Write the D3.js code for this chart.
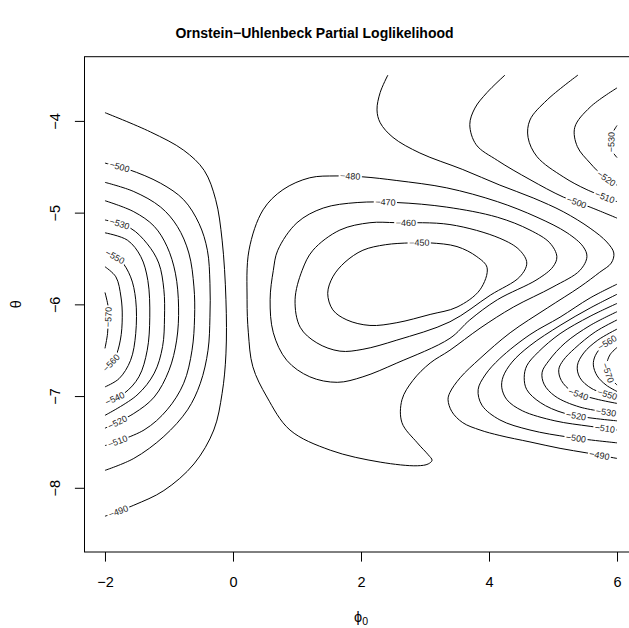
<!DOCTYPE html>
<html>
<head>
<meta charset="utf-8">
<script src="https://cdn.jsdelivr.net/npm/d3@7.9.0/dist/d3.min.js"></script>
<style>
  body { margin: 0; background: #fff; }
  svg { display: block; font-family: "Liberation Sans", Arial, sans-serif; }
</style>
</head>
<body>
<svg id="chart" width="629" height="628"></svg>
<script>
// axis ranges and ticks
const phiRange = [-2, 6];
const thetaRange = [-8.5, -3.5];
const phiTicks = [-2, 0, 2, 4, 6];
const thetaTicks = [-8, -7, -6, -5, -4];

// contour lines, [phi0, theta] pairs
// left basin
const left490 = [[-2,-3.91],[-1.29,-4.12],[-0.77,-4.32],[-0.45,-4.54],[-0.27,-4.86],[-0.17,-5.30],[-0.11,-5.95],[-0.11,-6.54],[-0.17,-6.97],[-0.30,-7.37],[-0.61,-7.74],[-1.08,-8.03],[-1.55,-8.19],[-2,-8.31]];
const left500 = [[-2,-4.46],[-1.63,-4.53],[-1.13,-4.68],[-0.77,-4.86],[-0.53,-5.12],[-0.40,-5.41],[-0.36,-5.77],[-0.36,-6.14],[-0.39,-6.50],[-0.51,-6.86],[-0.71,-7.15],[-1.08,-7.44],[-1.55,-7.68],[-2,-7.81]];
const left510 = [[-2,-4.67],[-1.55,-4.77],[-1.13,-4.94],[-0.87,-5.15],[-0.69,-5.44],[-0.61,-5.81],[-0.60,-6.14],[-0.64,-6.50],[-0.77,-6.86],[-1.03,-7.15],[-1.39,-7.37],[-2,-7.54]];
const left520 = [[-2,-4.87],[-1.55,-4.99],[-1.23,-5.15],[-1.03,-5.37],[-0.90,-5.66],[-0.85,-6.03],[-0.88,-6.39],[-1.00,-6.72],[-1.23,-7.01],[-1.55,-7.19],[-2,-7.35]];
const left530 = [[-2,-5.08],[-1.60,-5.17],[-1.34,-5.34],[-1.16,-5.55],[-1.08,-5.84],[-1.07,-6.14],[-1.10,-6.46],[-1.23,-6.75],[-1.50,-6.99],[-2,-7.21]];
const left540 = [[-2,-5.22],[-1.65,-5.30],[-1.44,-5.48],[-1.33,-5.74],[-1.30,-6.14],[-1.34,-6.50],[-1.47,-6.79],[-1.70,-6.97],[-2,-7.07]];
const left550 = [[-2,-5.43],[-1.76,-5.52],[-1.60,-5.70],[-1.52,-5.95],[-1.52,-6.32],[-1.60,-6.61],[-1.78,-6.81],[-2,-6.90]];
const left560 = [[-2,-5.59],[-1.83,-5.70],[-1.75,-5.92],[-1.73,-6.14],[-1.76,-6.39],[-1.85,-6.59],[-2,-6.70]];
const left570 = [[-2,-5.87],[-1.95,-6.03],[-1.95,-6.17],[-1.96,-6.32],[-2,-6.48]];

// central hill (closed loops)
const loop480 = [[1.61,-4.60],[2.03,-4.61],[2.56,-4.65],[3.34,-4.73],[4.13,-4.88],[4.75,-5.05],[5.22,-5.22],[5.47,-5.37],[5.53,-5.48],[5.42,-5.63],[5.00,-5.81],[4.38,-6.03],[3.86,-6.26],[3.39,-6.50],[3.08,-6.64],[2.81,-6.83],[2.64,-7.04],[2.64,-7.29],[2.88,-7.51],[3.05,-7.64],[3.11,-7.70],[3.05,-7.74],[2.88,-7.76],[2.30,-7.72],[1.52,-7.59],[0.89,-7.37],[0.53,-7.01],[0.31,-6.68],[0.24,-6.31],[0.22,-5.95],[0.25,-5.41],[0.47,-4.97],[0.78,-4.75],[1.20,-4.62]];
const loop470 = [[0.70,-5.41],[1.00,-5.11],[1.41,-4.95],[1.94,-4.89],[2.56,-4.89],[3.34,-4.94],[4.13,-5.05],[4.64,-5.19],[4.95,-5.33],[5.06,-5.48],[5.00,-5.59],[4.75,-5.73],[4.13,-5.95],[3.70,-6.17],[3.39,-6.37],[2.56,-6.64],[2.03,-6.79],[1.63,-6.85],[1.20,-6.79],[0.84,-6.61],[0.63,-6.31],[0.58,-5.95],[0.63,-5.63]];
const loop460 = [[1.25,-5.41],[1.67,-5.19],[2.14,-5.11],[2.56,-5.11],[3.39,-5.13],[4.17,-5.28],[4.48,-5.41],[4.59,-5.55],[4.48,-5.70],[4.02,-5.90],[3.39,-6.19],[2.56,-6.39],[2.03,-6.49],[1.67,-6.51],[1.31,-6.42],[1.05,-6.25],[0.97,-5.95],[1.08,-5.63]];
const loop450 = [[2.03,-5.41],[2.38,-5.35],[2.77,-5.33],[3.08,-5.33],[3.50,-5.37],[3.81,-5.48],[3.97,-5.60],[3.86,-5.84],[3.50,-6.03],[3.08,-6.11],[2.56,-6.20],[2.14,-6.23],[1.78,-6.17],[1.56,-6.06],[1.48,-5.88],[1.56,-5.70],[1.75,-5.54]];

// right side
const right490 = [[2.42,-3.50],[2.30,-3.69],[2.25,-3.88],[2.30,-4.02],[2.50,-4.18],[2.92,-4.35],[3.59,-4.53],[4.17,-4.70],[4.69,-4.84],[5.16,-4.99],[5.58,-5.17],[5.84,-5.32],[5.95,-5.44],[5.91,-5.55],[5.73,-5.65],[5.42,-5.81],[4.91,-6.04],[4.33,-6.31],[3.86,-6.59],[3.55,-6.80],[3.39,-6.96],[3.36,-7.04],[3.42,-7.17],[3.59,-7.29],[3.86,-7.37],[4.17,-7.43],[4.64,-7.50],[5.11,-7.57],[5.53,-7.62],[6.00,-7.68]];
const upper500 = [[4.25,-3.50],[3.97,-3.69],[3.78,-3.86],[3.70,-4.04],[3.80,-4.26],[4.13,-4.43],[4.64,-4.64],[5.16,-4.83],[5.58,-4.94],[6.00,-5.06]];
const upper510 = [[5.39,-3.50],[4.91,-3.77],[4.64,-3.99],[4.61,-4.18],[4.75,-4.39],[5.16,-4.61],[5.53,-4.75],[6.00,-4.88]];
const upper520 = [[6.00,-3.64],[5.58,-3.85],[5.34,-4.07],[5.38,-4.28],[5.58,-4.46],[5.78,-4.60],[6.00,-4.70]];
const upper530 = [[6.00,-4.05],[5.92,-4.15],[5.91,-4.23],[5.92,-4.32],[6.00,-4.40]];
const lower500 = [[6.00,-5.78],[5.58,-5.93],[5.11,-6.14],[4.64,-6.33],[4.17,-6.59],[3.94,-6.77],[3.83,-6.93],[3.89,-7.10],[4.17,-7.26],[4.64,-7.37],[5.27,-7.45],[6.00,-7.51]];
const lower510 = [[6.00,-5.89],[5.58,-6.04],[5.11,-6.23],[4.64,-6.45],[4.36,-6.63],[4.22,-6.79],[4.20,-6.91],[4.28,-7.04],[4.52,-7.16],[5.03,-7.27],[5.58,-7.33],[6.00,-7.37]];
const lower520 = [[6.00,-5.99],[5.58,-6.13],[5.11,-6.32],[4.77,-6.52],[4.59,-6.67],[4.55,-6.80],[4.59,-6.93],[4.80,-7.07],[5.19,-7.19],[6.00,-7.27]];
const lower530 = [[6.00,-6.08],[5.58,-6.23],[5.19,-6.42],[4.94,-6.61],[4.83,-6.74],[4.86,-6.87],[5.03,-7.00],[5.42,-7.12],[6.00,-7.19]];
const lower540 = [[6.00,-6.17],[5.66,-6.30],[5.34,-6.48],[5.16,-6.61],[5.09,-6.71],[5.13,-6.83],[5.30,-6.95],[5.66,-7.03],[6.00,-7.08]];
const lower550 = [[6.00,-6.27],[5.70,-6.39],[5.48,-6.53],[5.38,-6.67],[5.42,-6.80],[5.61,-6.92],[6.00,-7.01]];
const lower560 = [[6.00,-6.36],[5.78,-6.45],[5.66,-6.56],[5.63,-6.66],[5.69,-6.78],[5.83,-6.88],[6.00,-6.95]];
const lower570 = [[6.00,-6.47],[5.89,-6.55],[5.84,-6.66],[5.88,-6.78],[6.00,-6.88]];

// label spots: level, phi0, theta
const labelSpots = [
  [-500,-1.78,-4.50],[-530,-1.79,-5.15],[-550,-1.88,-5.52],[-570,-1.98,-6.14],[-560,-1.91,-6.64],
  [-540,-1.83,-7.04],[-520,-1.78,-7.32],[-510,-1.80,-7.51],[-490,-1.77,-8.30],
  [-480,1.83,-4.60],[-470,2.38,-4.89],[-460,2.70,-5.11],[-450,2.91,-5.33],
  [-530,5.95,-4.23],[-520,5.83,-4.64],[-510,5.80,-4.84],[-500,5.38,-4.88],
  [-560,5.84,-6.40],[-570,5.91,-6.73],[-540,5.39,-6.98],[-550,5.83,-7.01],
  [-520,5.36,-7.20],[-530,5.83,-7.19],[-500,5.36,-7.44],[-510,5.80,-7.38],[-490,5.72,-7.65]
];

const contours = [
  {level:-490, pts:left490}, {level:-500, pts:left500}, {level:-510, pts:left510},
  {level:-520, pts:left520}, {level:-530, pts:left530}, {level:-540, pts:left540},
  {level:-550, pts:left550}, {level:-560, pts:left560}, {level:-570, pts:left570},
  {level:-480, pts:loop480, closed:true}, {level:-470, pts:loop470, closed:true},
  {level:-460, pts:loop460, closed:true}, {level:-450, pts:loop450, closed:true},
  {level:-490, pts:right490}, {level:-500, pts:upper500}, {level:-510, pts:upper510},
  {level:-520, pts:upper520}, {level:-530, pts:upper530},
  {level:-500, pts:lower500}, {level:-510, pts:lower510}, {level:-520, pts:lower520},
  {level:-530, pts:lower530}, {level:-540, pts:lower540}, {level:-550, pts:lower550},
  {level:-560, pts:lower560}, {level:-570, pts:lower570}
];

// R style 4% padding around the data range
const pad = (r) => [r[0] - 0.04 * (r[1] - r[0]), r[1] + 0.04 * (r[1] - r[0])];
const x = d3.scaleLinear().domain(pad(phiRange)).range([84.5, 637.5]);
const y = d3.scaleLinear().domain(pad(thetaRange)).range([552, 56.7]);

const svg = d3.select("#chart");

const lineGen = d3.line().x(d => x(d[0])).y(d => y(d[1])).curve(d3.curveCatmullRom.alpha(0.5));
const loopGen = d3.line().x(d => x(d[0])).y(d => y(d[1])).curve(d3.curveCatmullRomClosed.alpha(0.5));

const paths = svg.append("g").selectAll("path").data(contours).join("path")
  .attr("d", d => (d.closed ? loopGen : lineGen)(d.pts))
  .attr("fill", "none")
  .attr("stroke", "#000")
  .attr("stroke-width", 1);

// contour labels sit on the line, turned along it, with the line cut under them
const fmt = d3.format("");
const labels = svg.append("g").attr("font-size", 9);
labelSpots.forEach(([level, p, t]) => {
  const px = x(p), py = y(t);
  let best = null;
  paths.each(function(d) {
    if (d.level !== level) return;
    const len = this.getTotalLength();
    for (let s = 0; s <= len; s += 1) {
      const pt = this.getPointAtLength(s);
      const dd = (pt.x - px) ** 2 + (pt.y - py) ** 2;
      if (!best || dd < best.dd) best = {dd, s, node: this, len};
    }
  });
  const c = best.node.getPointAtLength(best.s);
  const a = best.node.getPointAtLength(Math.max(0, best.s - 4));
  const b = best.node.getPointAtLength(Math.min(best.len, best.s + 4));
  let ang = Math.atan2(b.y - a.y, b.x - a.x) * 180 / Math.PI;
  if (ang > 90) ang -= 180;
  if (ang <= -90) ang += 180;
  const lab = labels.append("g").attr("transform", `translate(${c.x},${c.y}) rotate(${ang})`);
  const txt = lab.append("text")
    .attr("text-anchor", "middle")
    .attr("dy", "0.35em")
    .attr("fill", "#222")
    .text(fmt(level));
  const w = txt.node().getComputedTextLength();
  lab.insert("rect", "text")
    .attr("x", -w / 2 - 1.5).attr("y", -4.5)
    .attr("width", w + 3).attr("height", 9)
    .attr("fill", "#fff");
});

// box
svg.append("rect")
  .attr("x", 84.5).attr("y", 56.7)
  .attr("width", 553).attr("height", 495.3)
  .attr("fill", "none").attr("stroke", "#000").attr("stroke-width", 1);

// axes
svg.append("g")
  .attr("transform", "translate(0,552)")
  .call(d3.axisBottom(x).tickValues(phiTicks).tickFormat(d3.format("d")).tickSize(9.6).tickPadding(15))
  .call(g => g.select(".domain").remove())
  .attr("font-family", null)
  .attr("font-size", 14.5)
  .selectAll("text").attr("fill", "#000");

svg.append("g")
  .attr("transform", "translate(84.5,0)")
  .call(d3.axisLeft(y).tickValues(thetaTicks).tickFormat(d3.format("d")).tickSize(9.6))
  .call(g => g.select(".domain").remove())
  .attr("font-family", null)
  .attr("font-size", 14.5)
  .selectAll("text")
  .attr("transform", "rotate(-90)")
  .attr("x", 0).attr("y", -24.5).attr("dy", 0)
  .attr("text-anchor", "middle")
  .attr("fill", "#000");

// titles
svg.append("text")
  .attr("x", 314.5).attr("y", 38)
  .attr("text-anchor", "middle")
  .attr("font-weight", "bold")
  .attr("font-size", 14)
  .text("Ornstein\u2212Uhlenbeck Partial Loglikelihood");

const xl = svg.append("text")
  .attr("x", 361).attr("y", 622)
  .attr("text-anchor", "middle")
  .attr("font-size", 14.5);
xl.append("tspan").text("\u03D5");
xl.append("tspan").attr("font-size", 10.5).attr("dy", 3).text("0");

svg.append("text")
  .attr("transform", "translate(21,304.3) rotate(-90)")
  .attr("text-anchor", "middle")
  .attr("font-size", 14.5)
  .text("\u03B8");
</script>
</body>
</html>
